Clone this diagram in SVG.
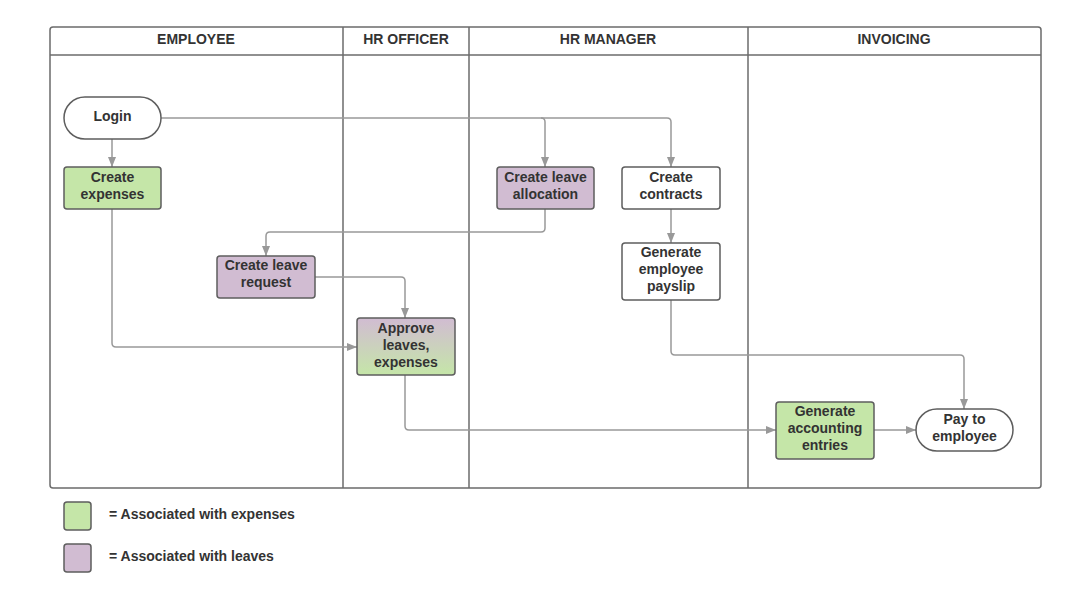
<svg xmlns="http://www.w3.org/2000/svg" width="1091" height="607" viewBox="0 0 1091 607">
<style>
.lane{fill:none;stroke:#6b6b6b;stroke-width:1.5}
.hd{font-family:"Liberation Sans",Arial,sans-serif;font-weight:bold;font-size:14px;fill:#333;text-anchor:middle}
.tx{font-family:"Liberation Sans",Arial,sans-serif;font-weight:bold;font-size:14px;fill:#333;text-anchor:middle}
.lg{font-family:"Liberation Sans",Arial,sans-serif;font-weight:bold;font-size:14px;fill:#333}
.nd{stroke:#5e5e5e;stroke-width:1.5}
.g{fill:#c5e6a8}
.p{fill:#d1bcd2}
.w{fill:#fff}
.cn{fill:none;stroke:#999;stroke-width:1.5}
</style>
<defs>
<marker id="ah" markerWidth="10" markerHeight="8" refX="10" refY="4" orient="auto" markerUnits="userSpaceOnUse">
<path d="M0,0 L10,4 L0,8 Z" fill="#999"/>
</marker>
<linearGradient id="grad" x1="0" y1="0" x2="0" y2="1">
<stop offset="0" stop-color="#d1bcd2"/>
<stop offset="1" stop-color="#c5e6a8"/>
</linearGradient>
</defs>
<rect width="1091" height="607" fill="#fff"/>
<g id="pool">
<rect class="lane" x="50" y="27" width="991" height="461" rx="3"/>
<line class="lane" x1="50" y1="55" x2="1041" y2="55"/>
<line class="lane" x1="343" y1="27" x2="343" y2="488"/>
<line class="lane" x1="469" y1="27" x2="469" y2="488"/>
<line class="lane" x1="748" y1="27" x2="748" y2="488"/>
<text class="hd" x="196" y="44">EMPLOYEE</text>
<text class="hd" x="406" y="44">HR OFFICER</text>
<text class="hd" x="608" y="44">HR MANAGER</text>
<text class="hd" x="894" y="44">INVOICING</text>
</g>
<g id="connectors">
<path class="cn" d="M161,118 H667 Q671,118 671,122 V167" marker-end="url(#ah)"/>
<path class="cn" d="M541,118 Q545,118 545,122 V167" marker-end="url(#ah)"/>
<path class="cn" d="M112,139 V167" marker-end="url(#ah)"/>
<path class="cn" d="M112,209 V343 Q112,347 116,347 H357" marker-end="url(#ah)"/>
<path class="cn" d="M545,209 V228 Q545,232 541,232 H270 Q266,232 266,236 V256" marker-end="url(#ah)"/>
<path class="cn" d="M315,277 H401 Q405,277 405,281 V318" marker-end="url(#ah)"/>
<path class="cn" d="M671,209 V243" marker-end="url(#ah)"/>
<path class="cn" d="M671,300 V351 Q671,355 675,355 H960 Q964,355 964,359 V409" marker-end="url(#ah)"/>
<path class="cn" d="M405,375 V426 Q405,430 409,430 H776" marker-end="url(#ah)"/>
<path class="cn" d="M874,430 H916" marker-end="url(#ah)"/>
</g>
<g id="login">
<rect class="nd w" x="64" y="97" width="97" height="42" rx="21"/>
<text class="tx" x="112.5" y="121">Login</text>
</g>
<g id="create-expenses">
<rect class="nd g" x="64" y="167" width="97" height="42" rx="3"/>
<text class="tx" x="112.5" y="182">Create</text>
<text class="tx" x="112.5" y="199">expenses</text>
</g>
<g id="create-leave-allocation">
<rect class="nd p" x="497" y="167" width="97" height="42" rx="3"/>
<text class="tx" x="545.5" y="182">Create leave</text>
<text class="tx" x="545.5" y="199">allocation</text>
</g>
<g id="create-contracts">
<rect class="nd w" x="622" y="167" width="98" height="42" rx="3"/>
<text class="tx" x="671" y="182">Create</text>
<text class="tx" x="671" y="199">contracts</text>
</g>
<g id="generate-payslip">
<rect class="nd w" x="622" y="243" width="98" height="57" rx="3"/>
<text class="tx" x="671" y="257">Generate</text>
<text class="tx" x="671" y="274">employee</text>
<text class="tx" x="671" y="291">payslip</text>
</g>
<g id="create-leave-request">
<rect class="nd p" x="217" y="256" width="98" height="42" rx="3"/>
<text class="tx" x="266" y="270">Create leave</text>
<text class="tx" x="266" y="287">request</text>
</g>
<g id="approve">
<rect class="nd" fill="url(#grad)" x="357" y="318" width="98" height="57" rx="3"/>
<text class="tx" x="406" y="333">Approve</text>
<text class="tx" x="406" y="350">leaves,</text>
<text class="tx" x="406" y="367">expenses</text>
</g>
<g id="generate-accounting">
<rect class="nd g" x="776" y="402" width="98" height="57" rx="3"/>
<text class="tx" x="825" y="416">Generate</text>
<text class="tx" x="825" y="433">accounting</text>
<text class="tx" x="825" y="450">entries</text>
</g>
<g id="pay-to-employee">
<rect class="nd w" x="916" y="409" width="97" height="42" rx="21"/>
<text class="tx" x="964.5" y="424">Pay to</text>
<text class="tx" x="964.5" y="441">employee</text>
</g>
<g id="legend">
<rect class="nd g" x="64" y="502" width="27" height="28" rx="3"/>
<text class="lg" x="109" y="519">= Associated with expenses</text>
<rect class="nd p" x="64" y="544" width="27" height="28" rx="3"/>
<text class="lg" x="109" y="561">= Associated with leaves</text>
</g>
</svg>
